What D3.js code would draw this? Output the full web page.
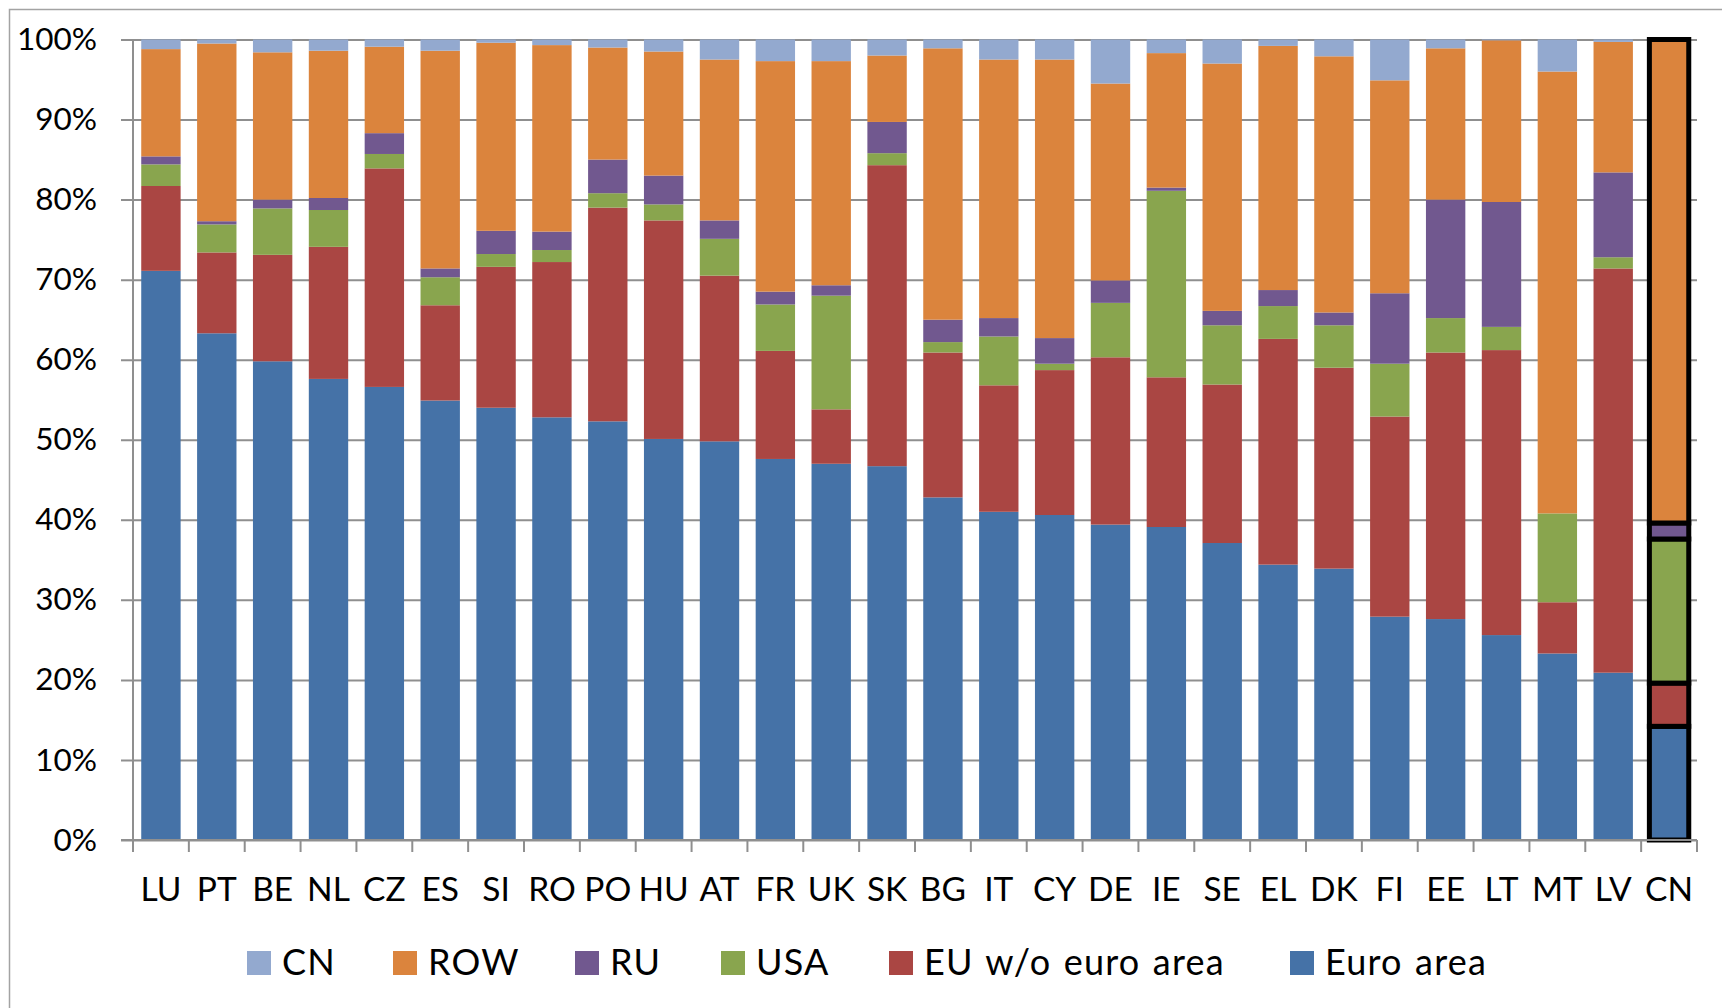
<!DOCTYPE html>
<html>
<head>
<meta charset="utf-8">
<script src="https://cdn.jsdelivr.net/npm/d3@7"></script>
<style>
  body { margin: 0; background: #fff; }
  svg { display: block; font-family: Lato, "Open Sans", sans-serif; }
</style>
</head>
<body>
<div class="plot"></div>
<script>
const categories = ["LU", "PT", "BE", "NL", "CZ", "ES", "SI", "RO", "PO", "HU", "AT", "FR", "UK", "SK",
    "BG", "IT", "CY", "DE", "IE", "SE", "EL", "DK", "FI", "EE", "LT", "MT", "LV", "CN"];

const euroArea = [71.1, 63.3, 59.8, 57.6, 56.6, 54.9, 54.0, 52.8, 52.3, 50.1, 49.8, 47.6, 47.0, 46.7,
    42.8, 41.0, 40.6, 39.4, 39.1, 37.1, 34.4, 33.9, 27.9, 27.6, 25.6, 23.3, 20.9, 14.2];
const euNonEuro = [10.6, 10.1, 13.3, 16.5, 27.3, 11.9, 17.6, 19.4, 26.7, 27.3, 20.7, 13.5, 6.8, 37.6,
    18.1, 15.8, 18.1, 20.9, 18.7, 19.8, 28.2, 25.1, 25.0, 33.3, 35.6, 6.4, 50.5, 5.4];
const usa = [2.7, 3.5, 5.8, 4.6, 1.8, 3.5, 1.6, 1.5, 1.8, 2.0, 4.6, 5.8, 14.2, 1.5,
    1.3, 6.1, 0.8, 6.8, 23.3, 7.4, 4.1, 5.3, 6.6, 4.3, 2.9, 11.1, 1.4, 18.0];
const ru = [1.0, 0.4, 1.1, 1.5, 2.6, 1.1, 2.9, 2.3, 4.2, 3.6, 2.3, 1.6, 1.3, 3.9,
    2.8, 2.3, 3.2, 2.8, 0.4, 1.8, 2.0, 1.6, 8.8, 14.8, 15.6, 0.0, 10.6, 2.0];
const rowWorld = [13.4, 22.2, 18.4, 18.4, 10.8, 27.2, 23.5, 23.3, 14.0, 15.5, 20.1, 28.8, 28.0, 8.3,
    33.9, 32.3, 34.8, 24.6, 16.8, 30.9, 30.5, 32.0, 26.6, 18.9, 20.2, 55.2, 16.3, 60.4];
const cn = [1.2, 0.5, 1.6, 1.4, 0.9, 1.4, 0.4, 0.7, 1.0, 1.5, 2.5, 2.7, 2.7, 2.0,
    1.1, 2.5, 2.5, 5.5, 1.7, 3.0, 0.8, 2.1, 5.1, 1.1, 0.1, 4.0, 0.3, 0.0];

// stacking order bottom -> top
const seriesKeys = ["Euro area", "EU w/o euro area", "USA", "RU", "ROW", "CN"];
const seriesValues = [euroArea, euNonEuro, usa, ru, rowWorld, cn];
const seriesColors = ["#4572A7", "#AA4643", "#89A54E", "#71588F", "#DB843D", "#93A9CF"];
// legend order as in the picture
const legendKeys = ["CN", "ROW", "RU", "USA", "EU w/o euro area", "Euro area"];
const yTicks = [0, 10, 20, 30, 40, 50, 60, 70, 80, 90, 100];
const highlighted = "CN";

const width = 1722, height = 1008;
const plotLeft = 133, plotRight = 1697, plotTop = 39.5, plotBottom = 840;
// legend swatch left edges
const legendX = [247, 393, 575, 721, 889, 1290];

const table = categories.map((c, i) => {
    const row = { cat: c };
    seriesKeys.forEach((k, j) => { row[k] = seriesValues[j][i]; });
    return row;
});

const svg = d3.select(".plot")
    .append("svg")
    .attr("width", width)
    .attr("height", height);

// outer frame
svg.append("rect")
    .attr("x", 9.5).attr("y", 9.5)
    .attr("width", width + 20).attr("height", height + 20)
    .attr("fill", "none")
    .attr("stroke", "#a3a3a3")
    .attr("stroke-width", 1.5);

const gap = 0.295;
const x = d3.scaleBand()
    .domain(categories)
    .range([plotLeft, plotRight])
    .paddingInner(gap)
    .paddingOuter(gap / 2);

const y = d3.scaleLinear()
    .domain([0, 100])
    .range([plotBottom, plotTop]);

const color = d3.scaleOrdinal().domain(seriesKeys).range(seriesColors);

// gridlines + left ticks
const yAxis = d3.axisLeft(y)
    .tickValues(yTicks)
    .tickSize(12)
    .tickPadding(24)
    .tickFormat(d => d + "%");

const yg = svg.append("g")
    .attr("transform", `translate(${plotLeft},0)`)
    .call(yAxis);
yg.select(".domain").remove();
yg.selectAll(".tick line")
    .attr("x1", -12)
    .attr("x2", plotRight - plotLeft)
    .attr("stroke", "#8f8f8f")
    .attr("stroke-width", 2);
yg.selectAll(".tick text")
    .attr("font-family", "Lato, 'Open Sans', sans-serif")
    .attr("font-size", 31.5)
    .attr("fill", "#000");

// y axis line
svg.append("line")
    .attr("x1", plotLeft).attr("x2", plotLeft)
    .attr("y1", y(100)).attr("y2", y(0))
    .attr("stroke", "#8f8f8f")
    .attr("stroke-width", 2);

// bars
const stacked = d3.stack().keys(seriesKeys)(table);

const layers = svg.append("g")
    .selectAll("g")
    .data(stacked)
    .enter().append("g")
    .attr("fill", d => color(d.key));

layers.selectAll("rect")
    .data(d => d)
    .enter().append("rect")
    .attr("x", d => x(d.data.cat))
    .attr("y", d => y(d[1]))
    .attr("width", x.bandwidth())
    .attr("height", d => y(d[0]) - y(d[1]))
    .attr("stroke", d => d.data.cat === highlighted ? "#000" : "none")
    .attr("stroke-width", d => d.data.cat === highlighted ? 5 : 0);

// x axis line and ticks at category boundaries
svg.append("line")
    .attr("x1", plotLeft - 12).attr("x2", plotRight)
    .attr("y1", y(0)).attr("y2", y(0))
    .attr("stroke", "#8f8f8f")
    .attr("stroke-width", 2);

const boundaries = d3.range(categories.length + 1).map(i => plotLeft + i * x.step());
svg.append("g")
    .selectAll("line")
    .data(boundaries)
    .enter().append("line")
    .attr("x1", d => d).attr("x2", d => d)
    .attr("y1", y(0)).attr("y2", y(0) + 12)
    .attr("stroke", "#8f8f8f")
    .attr("stroke-width", 2);

svg.append("g")
    .selectAll("text")
    .data(categories)
    .enter().append("text")
    .attr("x", d => x(d) + x.bandwidth() / 2)
    .attr("y", 900.5)
    .attr("text-anchor", "middle")
    .attr("font-size", 33.5)
    .attr("fill", "#000")
    .text(d => d);

// legend
const items = svg.append("g")
    .selectAll("g")
    .data(legendKeys)
    .enter().append("g")
    .attr("transform", (d, i) => `translate(${legendX[i]},0)`);

items.append("rect")
    .attr("width", 24).attr("height", 24)
    .attr("y", 951)
    .attr("fill", d => color(d));

items.append("text")
    .attr("x", 35)
    .attr("y", 975)
    .attr("font-size", 36)
    .attr("word-spacing", 2)
    .attr("letter-spacing", 1.2)
    .attr("fill", "#000")
    .text(d => d);
</script>
</body>
</html>
